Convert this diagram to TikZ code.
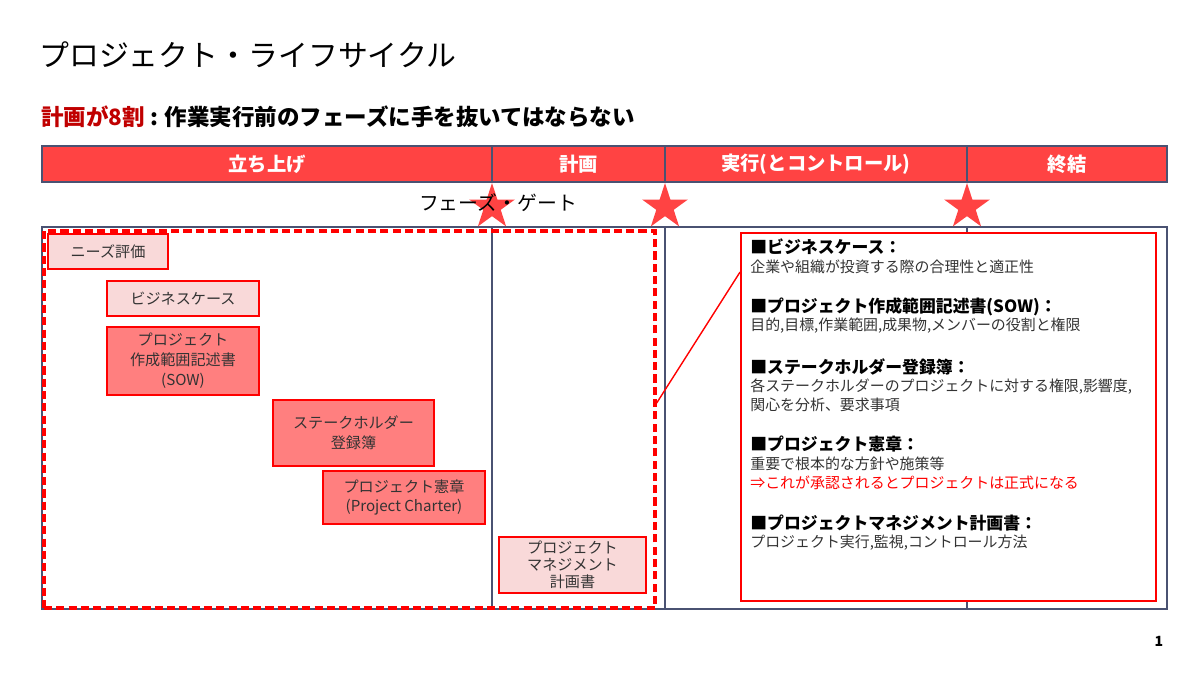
\documentclass[tikz,border=0pt]{standalone}
\usepackage{fontspec}
\setmainfont{Noto Sans CJK JP}
\usetikzlibrary{shapes.geometric}
\definecolor{plred}{HTML}{FF4343}
\definecolor{plcrimson}{HTML}{C00000}
\definecolor{plframe}{HTML}{4A5272}
\definecolor{plpink}{HTML}{F9D9D9}
\definecolor{plsalmon}{HTML}{FF7F7F}
\definecolor{plink}{HTML}{333333}
\tikzset{
  phasecell/.style={
    draw=plframe, fill=plred, line width=0.8pt, minimum height=0.72cm,
    inner sep=0pt, text=white, font=\bfseries\fontsize{11}{13}\selectfont},
  frameline/.style={draw=plframe, line width=0.85pt},
  gatestar/.style={
    star, star points=5, star point ratio=2.618, minimum size=0.96cm,
    inner sep=0pt, fill=plred},
  docbox/.style={
    draw=red, fill=plpink, line width=0.6pt, inner sep=0pt, align=center,
    text=plink, font=\fontsize{8.6}{11.3}\selectfont},
  keybox/.style={docbox, fill=plsalmon},
  scopebox/.style={
    draw=red, line width=2pt, dash pattern=on 4.6pt off 2.4pt},
  notebox/.style={draw=red, fill=white, line width=1.1pt},
  notehead/.style={
    anchor=west, inner sep=0pt, font=\bfseries\fontsize{9.6}{11}\selectfont},
  notebody/.style={
    anchor=west, inner sep=0pt, text=plink,
    font=\fontsize{8.5}{10.5}\selectfont},
  linkline/.style={draw=red, line width=0.8pt},
}
\begin{document}
\begin{tikzpicture}[x=0.02cm, y=-0.02cm]
\useasboundingbox (0,0) rectangle (1200,675);

% Title and key message.
\node[anchor=west, inner sep=0pt, font=\fontsize{17}{20}\selectfont]
  (title) at (39,55) {プロジェクト・ライフサイクル};
\node[anchor=west, inner sep=0pt, font=\bfseries\fontsize{12.8}{15}\selectfont]
  (lead) at (41,117)
  {{\color{plcrimson}計画が8割} : 作業実行前のフェーズに手を抜いてはならない};

% Phase header.
\foreach \x/\w/\lab/\nm in {267/9.0/立ち上げ/start, 578.5/3.46/計画/plan,
    816/6.04/実行(とコントロール)/exec, 1067/4.0/終結/close} {
  \node[phasecell, minimum width=\w cm] (\nm) at (\x,164) {\lab};
}

% Frame with phase columns.
\draw[frameline] (42,227) rectangle (1167,609);
\foreach \x in {492,665,967} {
  \draw[frameline] (\x,227) -- (\x,609);
}

% Initiating + planning scope.
\node[scopebox, minimum width=12.22cm, minimum height=7.54cm]
  (initscope) at (349.5,419.5) {};

% Documents.
\node[docbox, minimum width=2.4cm, minimum height=0.7cm]
  (needs) at (108,251.5) {ニーズ評価};
\node[docbox, minimum width=3.04cm, minimum height=0.7cm]
  (bcase) at (183,298.5) {ビジネスケース};
\node[keybox, minimum width=3.04cm, minimum height=1.36cm]
  (sow) at (183,361) {プロジェクト\\作成範囲記述書\\(SOW)};
\node[keybox, minimum width=3.22cm, minimum height=1.32cm]
  (stake) at (353.5,433) {ステークホルダー\\登録簿};
\node[keybox, minimum width=3.24cm, minimum height=1.06cm]
  (charter) at (404,497.5) {プロジェクト憲章\\(Project Charter)};
\node[docbox, minimum width=2.94cm, minimum height=1.12cm,
      font=\fontsize{8.6}{9.8}\selectfont]
  (pmplan) at (572.5,565) {プロジェクト\\マネジメント\\計画書};

% Phase gates.
\foreach \x/\i in {492/1, 665/2, 967/3} {
  \node[gatestar] (gate\i) at (\x,207) {};
}
\node[inner sep=0pt, font=\fontsize{11.3}{13}\selectfont]
  (gatelabel) at (498,203) {フェーズ・ゲート};

% Notes on each document.
\node[notebox, minimum width=8.3cm, minimum height=7.36cm]
  (notes) at (948.5,417) {};
\draw[linkline] (initscope.east |- 0,403) -- (notes.west |- 0,272);

\node[notehead] (h1) at (750,247) {■ビジネスケース：};
\node[notebody] (b1) at (750,267) {企業や組織が投資する際の合理性と適正性};
\node[notehead] (h2) at (750,307) {■プロジェクト作成範囲記述書(SOW)：};
\node[notebody] (b2) at (750,326) {目的,目標,作業範囲,成果物,メンバーの役割と権限};
\node[notehead] (h3) at (750,367) {■ステークホルダー登録簿：};
\node[notebody] (b3) at (750,387)
  {各ステークホルダーのプロジェクトに対する権限,影響度,};
\node[notebody] (b3b) at (750,405) {関心を分析、要求事項};
\node[notehead] (h4) at (750,444) {■プロジェクト憲章：};
\node[notebody] (b4) at (750,464) {重要で根本的な方針や施策等};
\node[notebody, text=red] (b4b) at (750,483)
  {⇒これが承認されるとプロジェクトは正式になる};
\node[notehead] (h5) at (750,523) {■プロジェクトマネジメント計画書：};
\node[notebody] (b5) at (750,543) {プロジェクト実行,監視,コントロール方法};

% Page number.
\node[font=\bfseries\fontsize{8}{9}\selectfont] (pagenum) at (1159,641) {1};

\end{tikzpicture}
\end{document}
